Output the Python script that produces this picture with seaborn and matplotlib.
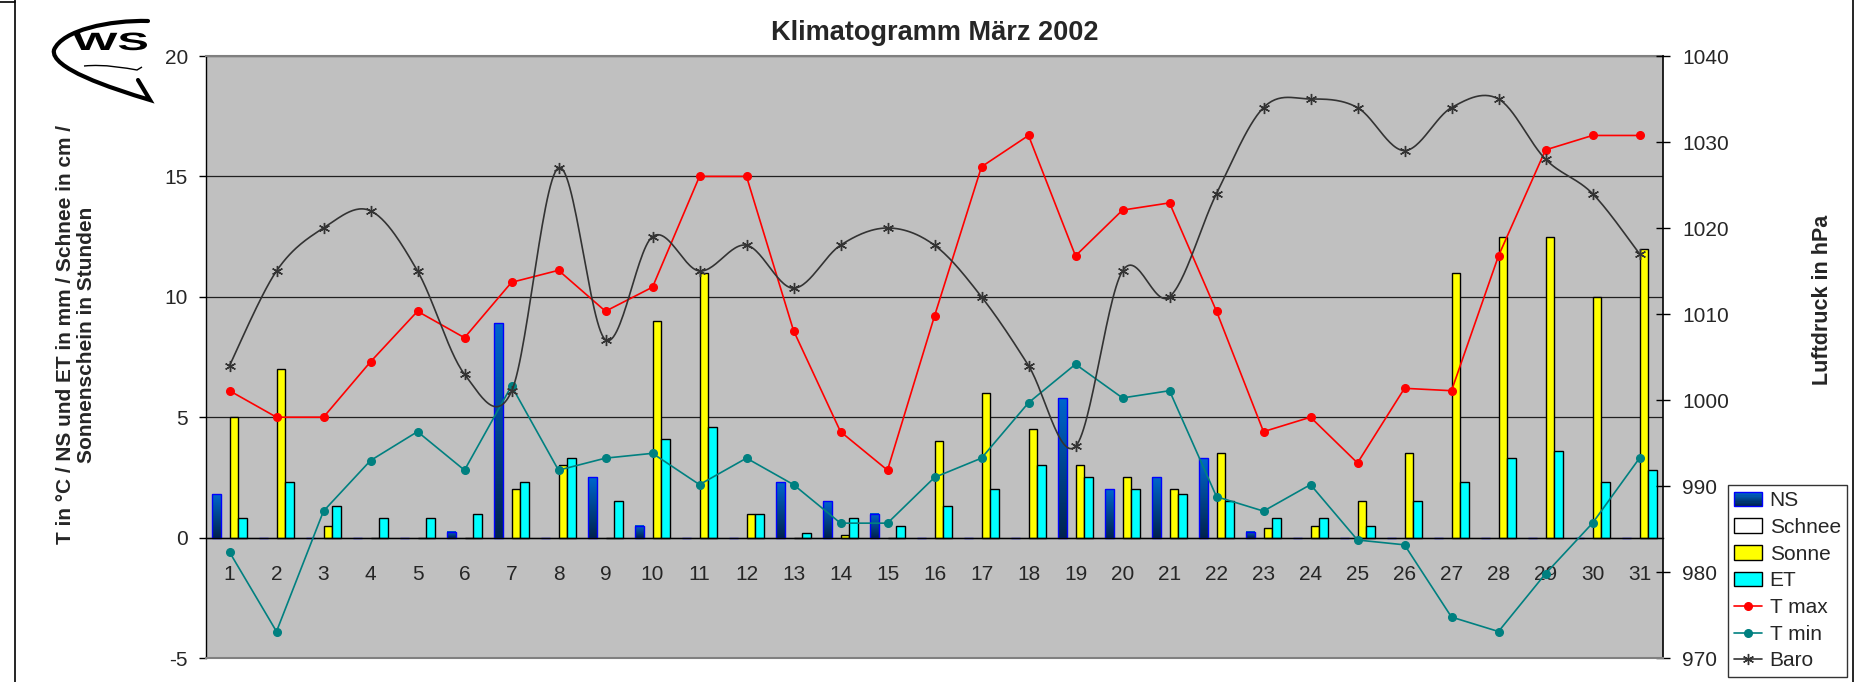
import numpy as np
import pandas as pd
import seaborn as sns
import matplotlib.pyplot as plt
from matplotlib.patches import Patch, Rectangle, PathPatch
from matplotlib.lines import Line2D
from matplotlib.path import Path
from matplotlib.textpath import TextPath
from matplotlib.font_manager import FontProperties
from matplotlib.transforms import Affine2D
from matplotlib.colors import LinearSegmentedColormap
from matplotlib.legend_handler import HandlerBase

# data (Maerz 2002)
days = [str(d) for d in range(1, 32)]
ns = [1.8, 0, 0, 0, 0, 0.25, 8.9, 0, 2.5, 0.5, 0, 0, 2.3, 1.5, 1.0, 0,
      0, 0, 5.8, 2.0, 2.5, 3.3, 0.25, 0, 0, 0, 0, 0, 0, 0, 0]
schnee = [0, 0, 0, 0, 0, 0, 0, 0, 0, 0, 0, 0, 0, 0, 0, 0,
          0, 0, 0, 0, 0, 0, 0, 0, 0, 0, 0, 0, 0, 0, 0]
sonne = [5.0, 7.0, 0.5, 0, 0, 0, 2.0, 3.0, 0, 9.0, 11.0, 1.0, 0, 0.1, 0, 4.0,
         6.0, 4.5, 3.0, 2.5, 2.0, 3.5, 0.4, 0.5, 1.5, 3.5, 11.0, 12.5, 12.5, 10.0, 12.0]
et = [0.8, 2.3, 1.3, 0.8, 0.8, 1.0, 2.3, 3.3, 1.5, 4.1, 4.6, 1.0, 0.2, 0.8, 0.5, 1.3,
      2.0, 3.0, 2.5, 2.0, 1.8, 1.5, 0.8, 0.8, 0.5, 1.5, 2.3, 3.3, 3.6, 2.3, 2.8]
tmax = [6.1, 5.0, 5.0, 7.3, 9.4, 8.3, 10.6, 11.1, 9.4, 10.4, 15.0, 15.0, 8.6, 4.4, 2.8, 9.2,
        15.4, 16.7, 11.7, 13.6, 13.9, 9.4, 4.4, 5.0, 3.1, 6.2, 6.1, 11.7, 16.1, 16.7, 16.7]
tmin = [-0.6, -3.9, 1.1, 3.2, 4.4, 2.8, 6.3, 2.8, 3.3, 3.5, 2.2, 3.3, 2.2, 0.6, 0.6, 2.5,
        3.3, 5.6, 7.2, 5.8, 6.1, 1.7, 1.1, 2.2, -0.1, -0.3, -3.3, -3.9, -1.5, 0.6, 3.3]
baro = [1004, 1015, 1020, 1022, 1015, 1003, 1001, 1027, 1007, 1019, 1015, 1018, 1013, 1018, 1020, 1018,
        1012, 1004, 994.6, 1015, 1012, 1024, 1034, 1035, 1034, 1029, 1034, 1035, 1028, 1024, 1017]

W, H = 1867, 682
sns.set_style("white")
plt.rcParams['font.family'] = ['Liberation Sans', 'DejaVu Sans']
plt.rcParams['axes.unicode_minus'] = False

ns_cmap = LinearSegmentedColormap.from_list('ns', ['#00234f', '#0066cc'])


def excel_smooth(yv, steps=30):
    # cardinal spline like Excel's "smoothed line"
    yv = np.asarray(yv, float)
    xv = np.arange(len(yv), dtype=float)
    pts = np.column_stack([xv, yv])
    ext = np.vstack([pts[0], pts, pts[-1]])
    m = (ext[2:] - ext[:-2]) / 2.0
    t = np.linspace(0, 1, steps)[:, None]
    h00 = 2 * t**3 - 3 * t**2 + 1
    h10 = t**3 - 2 * t**2 + t
    h01 = -2 * t**3 + 3 * t**2
    h11 = t**3 - t**2
    segs = []
    for i in range(len(pts) - 1):
        segs.append(h00 * pts[i] + h10 * m[i] + h01 * pts[i + 1] + h11 * m[i + 1])
    curve = np.vstack(segs)
    return curve[:, 0], curve[:, 1]


class GradientHandler(HandlerBase):
    def create_artists(self, legend, orig, xd, yd, w, h, fontsize, trans):
        arts = []
        n = 12
        for i in range(n):
            arts.append(Rectangle((-xd, -yd + h * i / n), w, h / n, facecolor=ns_cmap(i / (n - 1)),
                                  edgecolor='none', transform=trans))
        arts.append(Rectangle((-xd, -yd), w, h, facecolor='none', edgecolor='#0000ff', lw=1, transform=trans))
        return arts


fig = plt.figure(figsize=(W / 100, H / 100), dpi=100)
L, R, T, B = 206, 1663, 56, 658
ax = fig.add_axes([L / W, 1 - B / H, (R - L) / W, (B - T) / H])
ax.set_facecolor('#c0c0c0')

wide = pd.DataFrame({'Tag': days, 'NS': ns, 'Schnee': schnee, 'Sonne': sonne, 'ET': et})
df = wide.melt(id_vars='Tag', var_name='Serie', value_name='Wert')
order = ['NS', 'Schnee', 'Sonne', 'ET']
palette = {'NS': '#0050b0', 'Schnee': 'white', 'Sonne': '#ffff00', 'ET': '#00ffff'}

sns.barplot(data=df, x='Tag', y='Wert', hue='Serie', hue_order=order, order=days,
            palette=palette, width=0.74, gap=0, saturation=1, errorbar=None,
            edgecolor='black', linewidth=1.0, legend=False, ax=ax, zorder=2)

# gradient fill for the NS bars
grad = np.linspace(0, 1, 64).reshape(-1, 1)
for bar in ax.containers[0]:
    h = bar.get_height()
    bar.set_edgecolor('#0000ff')
    bar.set_facecolor('none')
    bar.set_zorder(2.2)
    if h > 0:
        x0 = bar.get_x()
        ax.imshow(grad, extent=(x0, x0 + bar.get_width(), 0, h), origin='lower',
                  aspect='auto', cmap=ns_cmap, zorder=2.1)
for bar in ax.containers[1]:
    bar.set_linewidth(0)

x = np.arange(len(days))
ax.plot(x, tmax, color='#ff0000', lw=1.2, marker='o', ms=5.5, zorder=4)
ax.plot(x, tmin, color='#008080', lw=1.2, marker='o', ms=5.5, zorder=4)

ax.set_xlim(-0.5, len(days) - 0.5)
ax.set_ylim(-5, 20)
ax.set_yticks([-5, 0, 5, 10, 15, 20])
ax.yaxis.grid(True, color='#202020', lw=0.9)
ax.xaxis.grid(False)
ax.set_axisbelow(True)
ax.set_xlabel('')
ax.set_ylabel('')
ax.set_xticks(x)
ax.set_xticklabels(days)
ax.set_xticks(np.arange(-0.5, len(days)), minor=True)
ax.tick_params(axis='x', which='major', length=0, pad=20, labelsize=15)
ax.tick_params(axis='x', which='minor', length=5, width=1, direction='out', color='black')
ax.tick_params(axis='y', which='major', length=5, width=1, direction='out', color='black',
               pad=8, labelsize=15, left=True)

ax.spines['bottom'].set_position(('data', 0))
ax.spines['bottom'].set_color('black')
ax.spines['bottom'].set_linewidth(1.0)
ax.spines['left'].set_color('black')
ax.spines['left'].set_linewidth(1.0)
ax.spines['top'].set_color('#808080')
ax.spines['top'].set_linewidth(1.5)
ax.spines['right'].set_visible(False)

ax2 = ax.twinx()
bx, by = excel_smooth(baro)
ax2.plot(bx, by, color='#333333', lw=1.2, zorder=3)
ax2.plot(x, baro, ls='none', marker=(6, 2, 0), ms=8, mew=1.0, color='#333333', zorder=3)
ax2.set_ylim(970, 1040)
ax2.set_yticks(np.arange(970, 1041, 10))
ax2.tick_params(axis='y', length=10, width=1, direction='inout', color='black', pad=8.7, labelsize=15)
ax2.spines['right'].set_color('black')
ax2.spines['right'].set_linewidth(1.2)
ax2.spines['bottom'].set_color('#808080')
ax2.spines['bottom'].set_linewidth(1.5)
ax2.spines['top'].set_visible(False)
ax2.spines['left'].set_visible(False)

# titles
fig.text((L + R) / 2 / W, 1 - 40 / H, 'Klimatogramm März 2002', ha='center', va='baseline',
         fontsize=19.5, fontweight='bold')
fig.text(76 / W, 1 - 335 / H, 'T in °C / NS und ET in mm / Schnee in cm /\nSonnenschein in Stunden',
         rotation=90, ha='center', va='center', multialignment='center', linespacing=1.15,
         fontsize=15, fontweight='bold')
fig.text(1822 / W, 1 - 300 / H, 'Luftdruck in hPa', rotation=90, ha='center', va='center',
         fontsize=15.5, fontweight='bold')

# legend
ns_handle = Patch(facecolor='#0050b0', edgecolor='#0000ff', label='NS')
handles = [ns_handle,
           Patch(facecolor='white', edgecolor='black', label='Schnee'),
           Patch(facecolor='#ffff00', edgecolor='black', label='Sonne'),
           Patch(facecolor='#00ffff', edgecolor='black', label='ET'),
           Line2D([], [], color='#ff0000', lw=1.2, marker='o', ms=5.5, label='T max'),
           Line2D([], [], color='#008080', lw=1.2, marker='o', ms=5.5, label='T min'),
           Line2D([], [], color='#333333', lw=1.2, marker=(6, 2, 0), ms=8, label='Baro')]
leg = fig.legend(handles=handles, loc='upper left', bbox_to_anchor=(1728 / W, 1 - 485 / H),
                 bbox_transform=fig.transFigure, frameon=True, fancybox=False, edgecolor='black',
                 fontsize=15, handlelength=1.35, handletextpad=0.35, labelspacing=0.37,
                 borderpad=0.3, borderaxespad=0, handler_map={ns_handle: GradientHandler()})
leg.get_frame().set_linewidth(1.0)
leg.get_frame().set_facecolor('white')

# frame lines of the original sheet
fig.add_artist(Line2D([15 / W, 15 / W], [0, 1], transform=fig.transFigure, color='black', lw=1.2))
fig.add_artist(Line2D([0, 15 / W], [1 - 1.5 / H, 1 - 1.5 / H], transform=fig.transFigure, color='black', lw=1.2))
fig.add_artist(Line2D([1853 / W, 1853 / W], [0, 1], transform=fig.transFigure, color='black', lw=1.2))

# "WS" logo, drawn in pixel coordinates (y down)
px2fig = Affine2D().scale(1 / W, -1 / H).translate(0, 1) + fig.transFigure
swoosh = Path([(148, 21), (110, 20), (62, 30), (54, 50), (50, 68), (110, 88), (150, 100), (138, 80)],
              [Path.MOVETO, Path.CURVE4, Path.CURVE4, Path.CURVE4, Path.CURVE4, Path.CURVE4, Path.CURVE4,
               Path.LINETO])
fig.add_artist(PathPatch(swoosh, fill=False, lw=3.0, edgecolor='black', transform=px2fig,
                         capstyle='round', joinstyle='miter'))
tp = TextPath((0, 0), 'WS', size=1, prop=FontProperties(family='Liberation Sans', weight='bold'))
ext = tp.get_extents()
sx = 74 / ext.width
sy = 18 / 0.72
glyphs = Affine2D().scale(sx, -sy).translate(73 - ext.x0 * sx, 50) + px2fig
fig.add_artist(PathPatch(tp, facecolor='black', edgecolor='none', transform=glyphs))
underline = Path([(84, 66), (105, 64), (125, 68), (137, 70), (142, 67)],
                 [Path.MOVETO, Path.CURVE4, Path.CURVE4, Path.CURVE4, Path.LINETO])
fig.add_artist(PathPatch(underline, fill=False, lw=1.0, edgecolor='black', transform=px2fig))

fig.savefig('out.png', dpi=100, facecolor='white')
